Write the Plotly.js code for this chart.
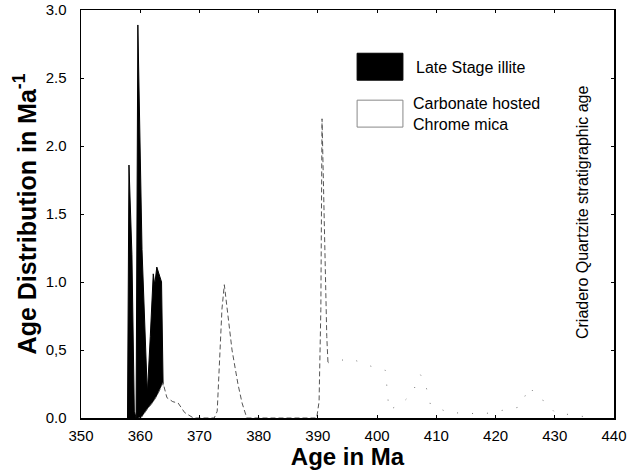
<!DOCTYPE html>
<html>
<head>
<meta charset="utf-8">
<script src="https://cdn.plot.ly/plotly-3.0.1.min.js"></script>
<style>
  html, body { margin: 0; padding: 0; background: #fff; }
  #chart { width: 630px; height: 472px; }
</style>
</head>
<body>
<div id="chart"></div>
<script>
// Age distribution (Ma^-1) versus age (Ma)
const illiteAge = [357.85, 358.1, 358.6, 359.0, 359.3, 359.45, 359.6, 360.3, 361.0, 361.2,
                   361.7, 362.2, 362.45, 362.8, 363.6, 363.85, 363.95];
const illiteDensity = [0, 1.86, 1.2, 0.05, 0.0, 1.2, 2.89, 1.24, 0.3, 0.18,
                       0.6, 1.06, 0.98, 1.11, 1.0, 0.25, 0];

const micaAge = [359.7, 360.3, 361.1, 361.7, 362.2, 362.9, 363.85, 364.5, 365.5, 366.4,
                 367.5, 369.0, 372.5, 373.0, 373.8, 374.2, 374.6, 375.5, 376.5, 377.2,
                 378.0, 381.2, 384.0, 387.0, 389.8, 390.2, 390.5, 390.7, 391.0, 391.5,
                 391.7, 392.0, 395.3, 399.0, 401.4, 402.0, 404.0, 405.9, 407.3, 408.1,
                 409.0, 412.0, 418.0, 424.0, 425.8, 427.0, 428.5, 430.0, 435.0];
const micaDensity = [0, 0.01, 0.06, 0.09, 0.12, 0.17, 0.26, 0.15, 0.12, 0.11,
                     0.04, 0.0, 0.0, 0.05, 0.8, 0.98, 0.82, 0.5, 0.25, 0.11,
                     0.0, 0.0, 0.0, 0.0, 0.0, 0.12, 0.8, 2.2, 1.5, 0.6,
                     0.41, 0.4, 0.44, 0.38, 0.35, 0.06, 0.1, 0.18, 0.32, 0.26,
                     0.1, 0.04, 0.03, 0.08, 0.23, 0.15, 0.12, 0.04, 0.01];

const yTickVals = [0, 0.5, 1.0, 1.5, 2.0, 2.5, 3.0];
const yTickText = ['0.0', '0,5', '1.0', '1.5', '2.0', '2.5', '3.0'];
const xTickVals = [350, 360, 370, 380, 390, 400, 410, 420, 430, 440];

// the tail of the mica curve is drawn with sparse dots
const tailStart = micaAge.indexOf(391.7);

const traces = [
  {
    x: illiteAge, y: illiteDensity, type: 'scatter', mode: 'lines',
    fill: 'tozeroy', fillcolor: '#000', line: {color: '#000', width: 1},
    hoverinfo: 'skip', showlegend: false
  },
  {
    x: micaAge, y: micaDensity, type: 'scatter', mode: 'lines',
    fill: 'tozeroy', fillcolor: '#fff', line: {color: 'rgba(0,0,0,0)', width: 0},
    hoverinfo: 'skip', showlegend: false
  },
  {
    x: micaAge.slice(0, tailStart + 1), y: micaDensity.slice(0, tailStart + 1),
    type: 'scatter', mode: 'lines',
    line: {color: '#555', width: 1, dash: '5px,3px'},
    hoverinfo: 'skip', showlegend: false
  },
  {
    x: micaAge.slice(tailStart), y: micaDensity.slice(tailStart),
    type: 'scatter', mode: 'lines',
    line: {color: '#777', width: 1, dash: '1px,14px'},
    hoverinfo: 'skip', showlegend: false
  }
];

const family = 'Liberation Sans, Arial, sans-serif';

const layout = {
  width: 630, height: 472,
  margin: {l: 81, r: 16, t: 10, b: 54},
  paper_bgcolor: '#fff', plot_bgcolor: '#fff',
  font: {family: family, color: '#000'},
  showlegend: false,
  xaxis: {
    range: [350, 440], tickvals: xTickVals, ticks: 'inside', ticklen: 3,
    tickcolor: '#000', showgrid: false, zeroline: false,
    showline: true, linecolor: '#000', linewidth: 1.5, mirror: 'ticks',
    tickfont: {size: 15, family: family, color: '#000'},
    ticklabelstandoff: 3,
    title: {text: 'Age in Ma', font: {size: 24, family: family, color: '#000', weight: 'bold'}, standoff: 2}
  },
  yaxis: {
    range: [0, 3.0], tickvals: yTickVals, ticktext: yTickText, ticks: 'inside', ticklen: 3,
    tickcolor: '#000', showgrid: false, zeroline: false,
    showline: true, linecolor: '#000', linewidth: 1.5, mirror: 'ticks',
    tickfont: {size: 15, family: family, color: '#000'},
    ticklabelstandoff: 10,
    title: {text: 'Age Distribution in Ma<sup>-1</sup>', font: {size: 25, family: family, color: '#000', weight: 'bold'}, standoff: 2}
  },
  shapes: [
    {type: 'rect', xref: 'paper', yref: 'paper', x0: 0.518, x1: 0.604, y0: 0.828, y1: 0.894,
     fillcolor: '#000', line: {color: '#000', width: 1}},
    {type: 'rect', xref: 'paper', yref: 'paper', x0: 0.518, x1: 0.604, y0: 0.713, y1: 0.779,
     fillcolor: '#fff', line: {color: '#888', width: 1}}
  ],
  annotations: [
    {text: 'Late Stage illite', xref: 'paper', yref: 'paper', x: 0.624, y: 0.86,
     xanchor: 'left', yanchor: 'middle', showarrow: false, font: {size: 16, family: family, color: '#000'}},
    {text: 'Carbonate hosted<br>Chrome mica', xref: 'paper', yref: 'paper', x: 0.62, y: 0.744,
     xanchor: 'left', yanchor: 'middle', align: 'left', showarrow: false,
     font: {size: 16, family: family, color: '#000'}},
    {text: 'Criadero Quartzite stratigraphic age', xref: 'paper', yref: 'paper', x: 0.942, y: 0.505,
     xanchor: 'center', yanchor: 'middle', textangle: -90, showarrow: false,
     font: {size: 16, family: family, color: '#000'}}
  ]
};

Plotly.newPlot('chart', traces, layout, {staticPlot: true, displayModeBar: false});
</script>
</body>
</html>
